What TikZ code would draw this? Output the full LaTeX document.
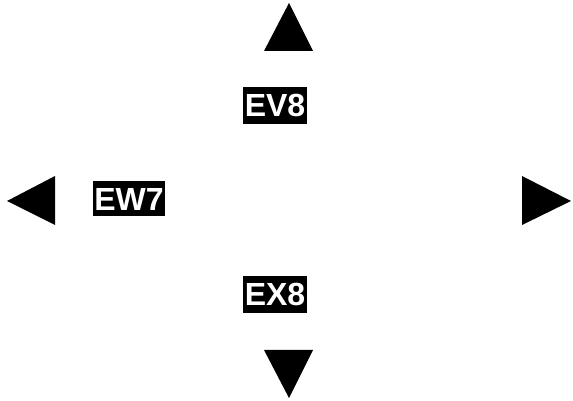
\documentclass[tikz,border=0pt]{standalone}
\usepackage{fontspec}
\setmainfont{Liberation Sans}
\begin{document}
\begin{tikzpicture}[x=1pt,y=1pt,
  lab/.style={fill=black,text=white,font=\fontsize{32}{33}\selectfont\bfseries,inner xsep=1.5pt,inner ysep=0pt,minimum height=37pt},
  tri/.style={fill=black}]
\useasboundingbox (0,0) rectangle (573,401);
\node[lab] (ev8) at (275,295.5) {EV8};
\node[lab,minimum height=35pt] (ew7) at (129,202) {EW7};
\node[lab] (ex8) at (275,106.5) {EX8};
\coordinate (up) at (289,398);
\coordinate (left) at (7,200);
\coordinate (right) at (571,200);
\coordinate (down) at (289,3);
\fill[tri] (up) -- (264,350) -- (313,350) -- cycle;
\fill[tri] (left) -- (55,225) -- (55,176) -- cycle;
\fill[tri] (right) -- (522,225) -- (522,176) -- cycle;
\fill[tri] (down) -- (264,51) -- (313,51) -- cycle;
\end{tikzpicture}
\end{document}
